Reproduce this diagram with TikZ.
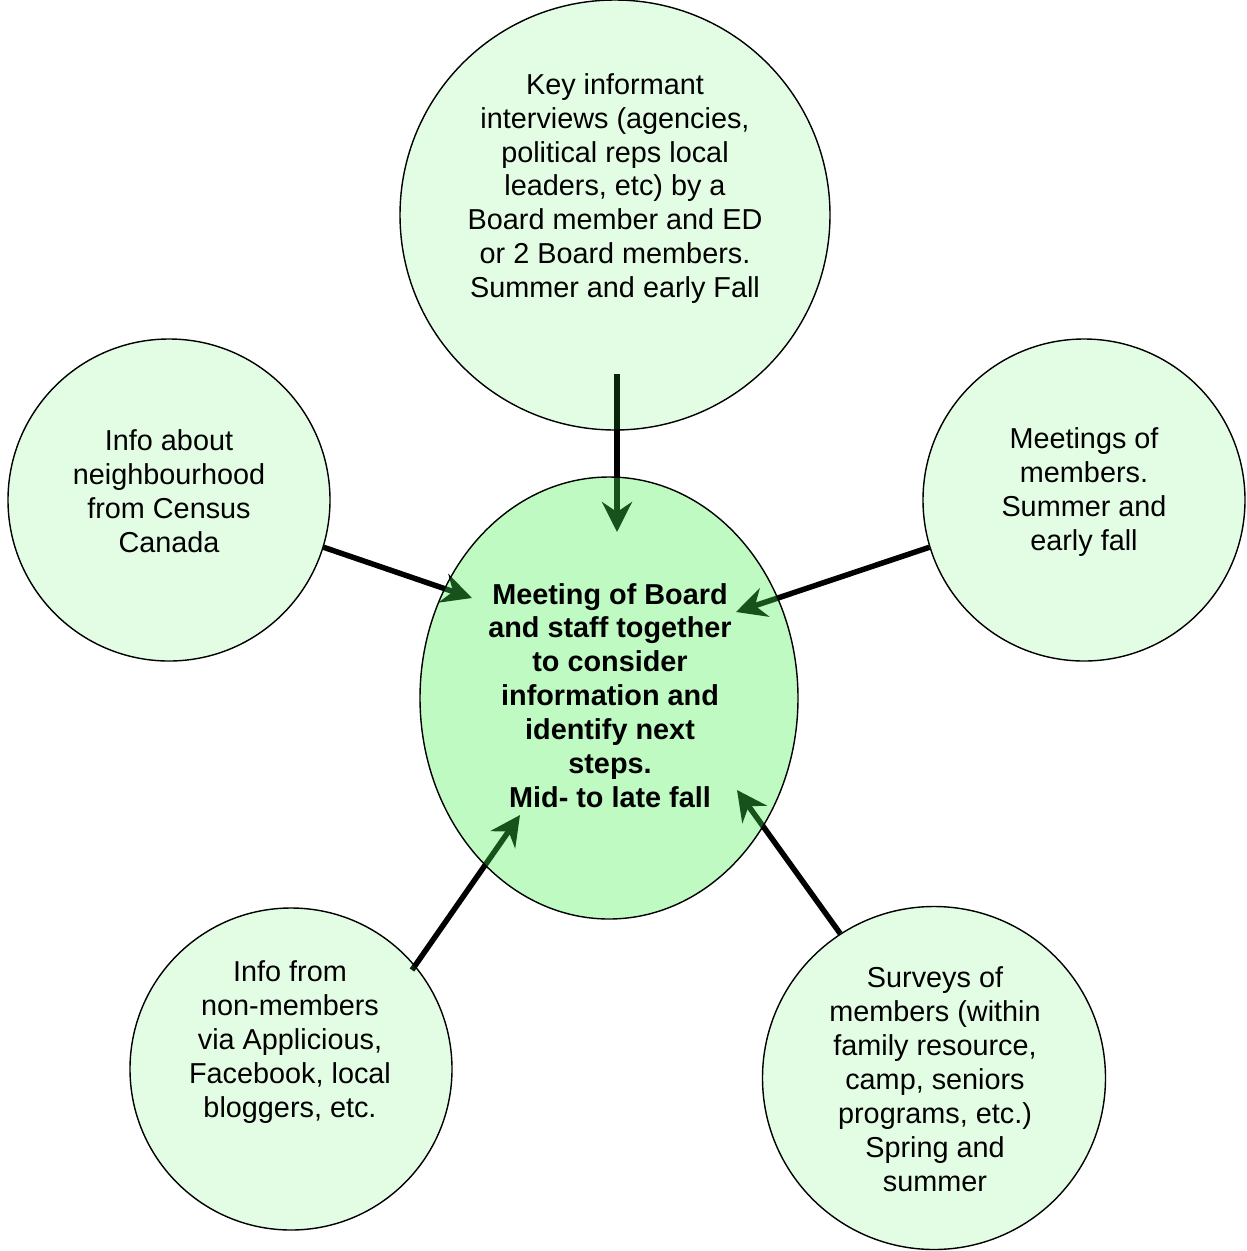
\documentclass[tikz,border=0pt]{standalone}
\usepackage{fontspec}
\setmainfont{Liberation Sans}
\usetikzlibrary{arrows.meta,backgrounds,calc,shapes.geometric}
\definecolor{mintgreen}{RGB}{70,240,80}
\tikzset{
	bubble/.style={circle, draw=black, line width=0.8pt, fill=mintgreen, fill opacity=0.15, inner sep=0pt},
	hub/.style={ellipse, draw=black, line width=0.8pt, fill=mintgreen, fill opacity=0.34, inner sep=0pt, minimum width=7.56cm, minimum height=8.84cm},
	bubbletext/.style={align=center, font=\fontsize{16.4}{19.3}\selectfont},
	feed/.style={line width=0.11cm, -{Stealth[length=0.6cm, width=0.6cm, inset=0.2cm]}}
}

\begin{document}
\begin{tikzpicture}
		%%%%% START %%%%%
		\useasboundingbox (0, 0) rectangle (24.94, -25.02);
		
		\node[bubble, minimum size=8.6cm] (key) at (12.30, -4.30) {};
		\node[bubble, minimum size=6.44cm] (census) at (3.38, -10.00) {};
		\node[bubble, minimum size=6.44cm] (meet) at (21.68, -10.00) {};
		\node[bubble, minimum size=6.44cm] (nonmem) at (5.82, -21.38) {};
		\node[bubble, minimum size=6.86cm] (survey) at (18.68, -21.56) {};
		\node[hub] (board) at (12.18, -13.96) {};
		
		\node[bubbletext] (keytxt) at (12.30, -3.77) {Key informant\\interviews (agencies,\\political reps local\\leaders, etc) by a\\Board member and ED\\or 2 Board members.\\Summer and early Fall};
		\node[bubbletext] (censustxt) at (3.38, -9.82) {Info about\\neighbourhood\\from Census\\Canada};
		\node[bubbletext] (meettxt) at (21.68, -9.84) {Meetings of\\members.\\Summer and\\early fall};
		\node[bubbletext] (nonmemtxt) at (5.80, -20.84) {Info from\\non-members\\via Applicious,\\Facebook, local\\bloggers, etc.};
		\node[bubbletext] (surveytxt) at (18.70, -21.58) {Surveys of\\members (within\\family resource,\\camp, seniors\\programs, etc.)\\Spring and\\summer};
		\node[bubbletext, font=\fontsize{16.4}{19.3}\selectfont\bfseries] (boardtxt) at (12.20, -13.91) {Meeting of Board\\and staff together\\to consider\\information and\\identify next\\steps.\\Mid- to late fall};
		
		% arrow ends
		\coordinate (keyout) at (12.34, -7.48);
		\coordinate (keyin) at (12.34, -10.64);
		\coordinate (censusin) at (9.44, -11.96);
		\coordinate (meetin) at (14.72, -12.24);
		\coordinate (nonmemout) at (8.24, -19.40);
		\coordinate (nonmemin) at (10.40, -16.30);
		\coordinate (surveyin) at (14.74, -15.80);
		
		\begin{scope}[on background layer]
			\draw[feed] (keyout) -- (keyin);
			\draw[feed] (census.-17) -- (censusin);
			\draw[feed] (meet.197) -- (meetin);
			\draw[feed] (nonmemout) -- (nonmemin);
			\draw[feed] (survey.123) -- (surveyin);
		\end{scope}
		%%%%% END %%%%%
	\end{tikzpicture}
\end{document}
